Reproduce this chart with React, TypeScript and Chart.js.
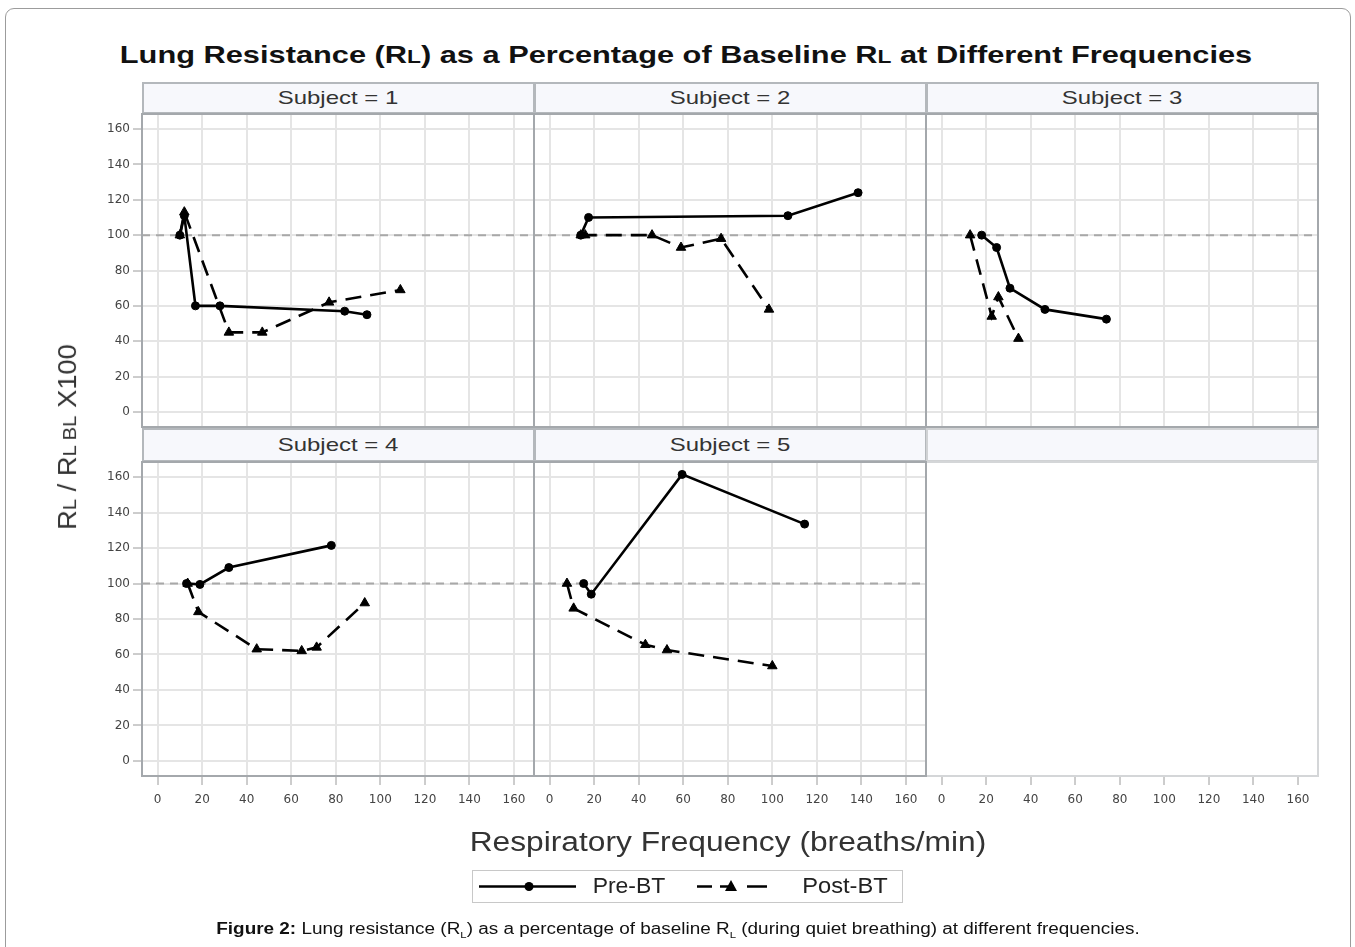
import React, { useEffect, useLayoutEffect, useRef } from "react";
import { Chart, registerables } from "chart.js";

Chart.register(...registerables);

// ---------------- data ----------------
const subjects = ["1", "2", "3", "4", "5"];
const seriesNames = ["Pre-BT", "Post-BT"];
const xTickValues = [0, 20, 40, 60, 80, 100, 120, 140, 160];
const yTickValues = [0, 20, 40, 60, 80, 100, 120, 140, 160];
const baselinePct = 100;

const preX1 = [10, 12, 17, 28, 84, 94];
const preY1 = [100, 111, 60, 60, 57, 55];
const postX1 = [10, 12, 32, 47, 77, 109];
const postY1 = [100, 113, 45, 45, 62, 69];

const preX2 = [14, 17.5, 107, 138.5];
const preY2 = [100, 110, 111, 124];
const postX2 = [14, 16, 46, 59, 77, 98.5];
const postY2 = [100, 100, 100, 93, 98, 58];

const preX3 = [18, 24.7, 30.7, 46.4, 74];
const preY3 = [100, 93, 70, 58, 52.5];
const postX3 = [12.8, 22.5, 25.5, 34.5];
const postY3 = [100, 54, 65, 41.5];

const preX4 = [13, 19, 32, 78];
const preY4 = [100, 99.5, 109, 121.5];
const postX4 = [13.5, 18.3, 44.5, 64.7, 71.4, 93];
const postY4 = [100, 84, 63, 62, 64, 89];

const preX5 = [15.3, 18.7, 59.5, 114.5];
const preY5 = [100, 94, 161.5, 133.5];
const postX5 = [7.8, 10.8, 43, 52.7, 100];
const postY5 = [100, 86, 65.5, 62.5, 53.5];

const preXs = [preX1, preX2, preX3, preX4, preX5];
const preYs = [preY1, preY2, preY3, preY4, preY5];
const postXs = [postX1, postX2, postX3, postX4, postX5];
const postYs = [postY1, postY2, postY3, postY4, postY5];

// ---------------- layout ----------------
const FONT = "'Liberation Sans', Arial, sans-serif";
const TICK_FONT = "'DejaVu Sans', sans-serif";
const COL_LEFT = [142, 534, 926];
const PLOT_W = 392;
const ROWS = [
  { headTop: 82, headH: 32, top: 114, h: 313 },
  { headTop: 428, headH: 34, top: 462, h: 314 },
];
const M = 12;
const Y_AXIS_W = 60;
const X_AXIS_H = 40;

const toPoints = (xs: number[], ys: number[]) => xs.map((x, i) => ({ x, y: ys[i] }));

const framePlugin = {
  id: "frame",
  beforeDatasetsDraw(chart: any, _args: any, opts: any) {
    if (!opts.refLine) return;
    const { ctx, chartArea } = chart;
    const y = chart.scales.y.getPixelForValue(opts.refLine);
    ctx.save();
    ctx.strokeStyle = "#a8a8a8";
    ctx.lineWidth = 2;
    ctx.setLineDash([8, 6]);
    ctx.beginPath();
    ctx.moveTo(chartArea.left, y);
    ctx.lineTo(chartArea.right, y);
    ctx.stroke();
    ctx.restore();
  },
  afterDraw(chart: any, _args: any, opts: any) {
    const { ctx, chartArea } = chart;
    ctx.save();
    ctx.strokeStyle = opts.color || "#a4a8ac";
    ctx.lineWidth = 2;
    ctx.strokeRect(chartArea.left, chartArea.top, chartArea.right - chartArea.left, chartArea.bottom - chartArea.top);
    ctx.restore();
  },
};

type PanelProps = { idx: number; col: number; row: number; empty?: boolean };

function Panel({ idx, col, row, empty }: PanelProps) {
  const ref = useRef<HTMLCanvasElement>(null);
  const showY = col === 0 && !empty;
  const bottom = row === 1;
  const yW = showY ? Y_AXIS_W : 0;
  const xH = bottom ? X_AXIS_H : 0;
  const R = ROWS[row];
  const w = M + yW + PLOT_W + M;
  const h = M + R.h + xH + M;
  const left = COL_LEFT[col] - yW - M;
  const top = R.top - M;

  useEffect(() => {
    if (!ref.current) return;
    const datasets: any[] = empty
      ? []
      : [
          {
            label: seriesNames[0],
            data: toPoints(preXs[idx], preYs[idx]),
            showLine: true,
            borderColor: "#000",
            backgroundColor: "#000",
            borderWidth: 2.6,
            pointStyle: "circle",
            pointRadius: 4,
            pointBorderWidth: 1,
            tension: 0,
          },
          {
            label: seriesNames[1],
            data: toPoints(postXs[idx], postYs[idx]),
            showLine: true,
            borderColor: "#000",
            backgroundColor: "#000",
            borderWidth: 2.6,
            borderDash: [16, 9],
            pointStyle: "triangle",
            pointRadius: 5.5,
            pointBorderWidth: 1,
            tension: 0,
          },
        ];
    const chart = new Chart(ref.current, {
      type: "scatter",
      data: { datasets },
      plugins: [framePlugin],
      options: {
        animation: false,
        responsive: false,
        maintainAspectRatio: false,
        layout: { padding: { left: M, right: M, top: M, bottom: M } },
        plugins: {
          legend: { display: false },
          tooltip: { enabled: false },
          title: { display: false },
          frame: { refLine: empty ? 0 : baselinePct, color: empty ? "#d4d6d8" : "#a4a8ac" },
        } as any,
        scales: {
          x: {
            type: "linear",
            min: -7,
            max: 169,
            afterBuildTicks: (s: any) => {
              s.ticks = xTickValues.map((v) => ({ value: v }));
            },
            afterFit: (s: any) => {
              s.height = xH;
            },
            ticks: {
              display: bottom,
              autoSkip: false,
              maxRotation: 0,
              padding: 8,
              color: "#444",
              font: { family: TICK_FONT, size: 12 },
            },
            grid: {
              display: true,
              drawOnChartArea: !empty,
              drawTicks: bottom,
              tickLength: 9,
              tickColor: "#9a9a9a",
              tickWidth: 1,
              color: "#e5e5e5",
              lineWidth: 2,
            },
            border: { display: false },
          },
          y: {
            type: "linear",
            display: !empty,
            min: -8.5,
            max: 168.5,
            afterBuildTicks: (s: any) => {
              s.ticks = yTickValues.map((v) => ({ value: v }));
            },
            afterFit: (s: any) => {
              s.width = yW;
            },
            ticks: {
              display: showY,
              autoSkip: false,
              padding: 3,
              color: "#444",
              font: { family: TICK_FONT, size: 12 },
            },
            grid: {
              drawTicks: showY,
              tickLength: 9,
              tickColor: "#9a9a9a",
              tickWidth: 1,
              color: "#e5e5e5",
              lineWidth: 2,
            },
            border: { display: false },
          },
        },
      } as any,
    });
    return () => chart.destroy();
  }, [idx, empty]);

  return (
    <canvas
      ref={ref}
      width={w}
      height={h}
      style={{ position: "absolute", left, top, width: w, height: h, display: "block" }}
    />
  );
}

function FitText({
  cx,
  cy,
  w,
  rotate,
  style,
  children,
}: {
  cx: number;
  cy: number;
  w: number;
  rotate?: boolean;
  style?: React.CSSProperties;
  children: React.ReactNode;
}) {
  const ref = useRef<HTMLSpanElement>(null);
  useLayoutEffect(() => {
    const el = ref.current;
    if (!el) return;
    const natural = el.offsetWidth;
    const k = natural > 0 ? w / natural : 1;
    el.style.transform = `translate(-50%, -50%) ${rotate ? "rotate(-90deg) " : ""}scaleX(${k})`;
  }, [w, rotate]);
  return (
    <span
      ref={ref}
      style={{
        position: "absolute",
        left: cx,
        top: cy,
        whiteSpace: "nowrap",
        lineHeight: 1.15,
        fontFamily: FONT,
        transform: "translate(-50%, -50%)",
        ...style,
      }}
    >
      {children}
    </span>
  );
}

const sc = { fontSize: "0.74em" };

export default function App() {
  const cells: { col: number; row: number; idx: number; empty?: boolean }[] = [];
  subjects.forEach((_, i) => cells.push({ col: i % 3, row: Math.floor(i / 3), idx: i }));

  return (
    <div
      style={{
        position: "absolute",
        left: 0,
        top: 0,
        width: 1355,
        height: 947,
        overflow: "hidden",
        background: "#fff",
        fontFamily: FONT,
      }}
    >
      <div
        style={{
          position: "absolute",
          left: 5,
          top: 8,
          width: 1344,
          height: 980,
          border: "1px solid #9c9c9c",
          borderRadius: 9,
        }}
      />
      <FitText cx={686} cy={55} w={1132} style={{ fontSize: 24, fontWeight: "bold", color: "#111" }}>
        Lung Resistance (R<span style={sc}>L</span>) as a Percentage of Baseline R<span style={sc}>L</span> at
        Different Frequencies
      </FitText>

      {/* panel headers */}
      {[0, 1].map((r) =>
        [0, 1, 2].map((c) => {
          const i = r * 3 + c;
          const R = ROWS[r];
          const has = i < subjects.length;
          return (
            <div
              key={`h${i}`}
              style={{
                position: "absolute",
                left: COL_LEFT[c],
                top: R.headTop,
                width: PLOT_W + 1,
                height: R.headH,
                boxSizing: "border-box",
                border: `2px solid ${has ? "#b4b8bc" : "#d0d2d4"}`,
                background: "#f7f8fc",
              }}
            />
          );
        })
      )}
      {subjects.map((s, i) => {
        const c = i % 3;
        const R = ROWS[Math.floor(i / 3)];
        return (
          <FitText
            key={`t${i}`}
            cx={COL_LEFT[c] + PLOT_W / 2}
            cy={R.headTop + R.headH / 2}
            w={121}
            style={{ fontSize: 19, color: "#333" }}
          >
            {`Subject = ${s}`}
          </FitText>
        );
      })}

      <Panel idx={0} col={2} row={1} empty />
      {cells.map((c) => (
        <Panel key={c.idx} idx={c.idx} col={c.col} row={c.row} />
      ))}

      {/* axis titles */}
      <FitText cx={68} cy={437} w={186} rotate style={{ fontSize: 26, color: "#333" }}>
        R<span style={sc}>L</span> / R<span style={sc}>L BL</span> X100
      </FitText>
      <FitText cx={728} cy={843} w={517} style={{ fontSize: 27, color: "#333" }}>
        Respiratory Frequency (breaths/min)
      </FitText>

      {/* legend */}
      <div
        style={{
          position: "absolute",
          left: 472,
          top: 870,
          width: 431,
          height: 33,
          boxSizing: "border-box",
          border: "1px solid #c8c8c8",
        }}
      />
      <svg style={{ position: "absolute", left: 0, top: 0 }} width={1355} height={947}>
        <line x1={479} y1={886.5} x2={576} y2={886.5} stroke="#000" strokeWidth={2.6} />
        <circle cx={529} cy={886.5} r={4.5} fill="#000" />
        <line x1={697} y1={886.5} x2={768} y2={886.5} stroke="#000" strokeWidth={2.6} strokeDasharray="15 8 14 13 20" />
        <polygon points="731,880 737,891 725,891" fill="#000" />
      </svg>
      <FitText cx={628.5} cy={886} w={73} style={{ fontSize: 22, color: "#222" }}>
        Pre-BT
      </FitText>
      <FitText cx={844.5} cy={886} w={85} style={{ fontSize: 22, color: "#222" }}>
        Post-BT
      </FitText>

      {/* caption */}
      <FitText cx={678} cy={930} w={924} style={{ fontSize: 16, color: "#111" }}>
        <b>Figure 2:</b> Lung resistance (R<sub style={{ fontSize: "0.6em" }}>L</sub>) as a percentage of baseline R
        <sub style={{ fontSize: "0.6em" }}>L</sub> (during quiet breathing) at different frequencies.
      </FitText>
    </div>
  );
}
